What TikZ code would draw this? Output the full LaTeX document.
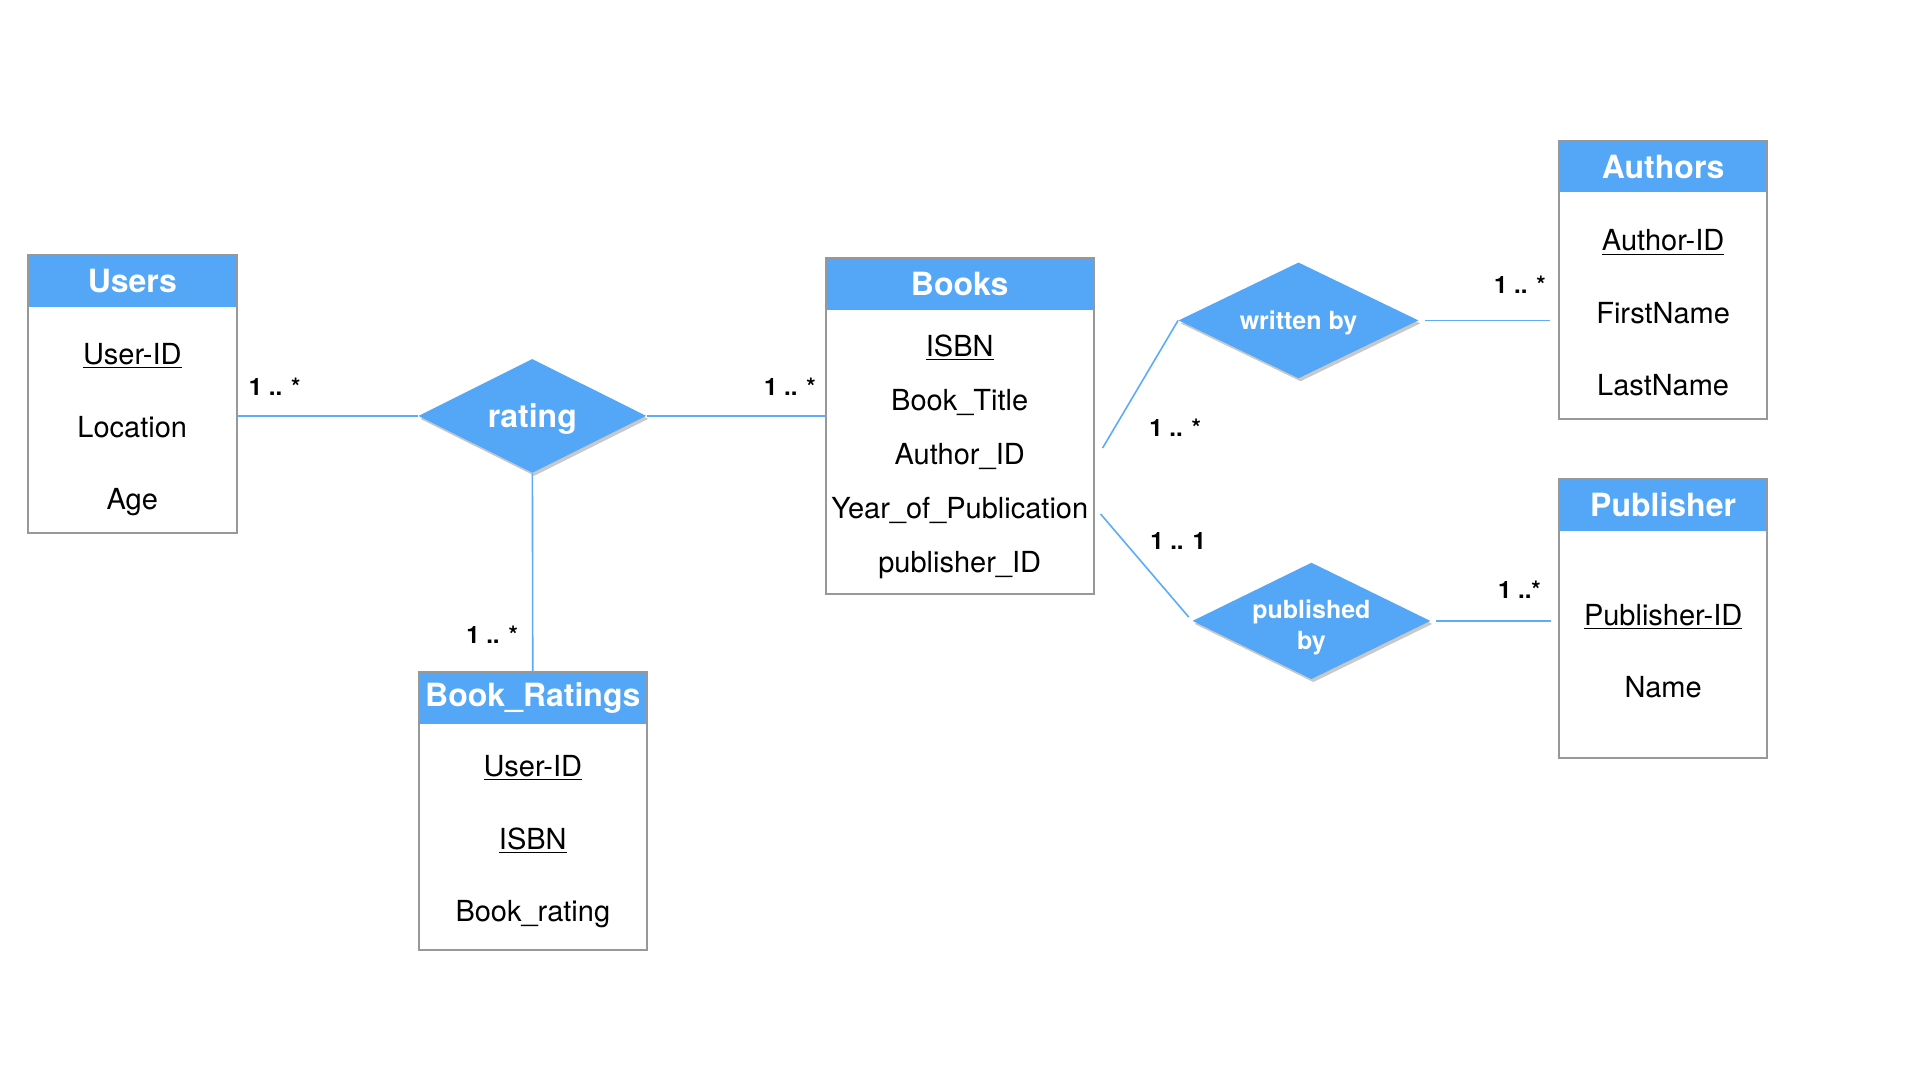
\documentclass[tikz,border=0pt]{standalone}
\usepackage{fontspec}
\setmainfont{TeX Gyre Heros}
\usetikzlibrary{positioning,fit,shapes.geometric,shadows}
\definecolor{headblue}{RGB}{84,167,247}
\definecolor{lineblue}{RGB}{92,172,250}
\definecolor{boxgray}{RGB}{152,152,152}
\newcommand{\rowpad}[1]{\rule{0pt}{#1}}

\begin{document}
\begin{tikzpicture}[
  x=0.5pt, y=-0.5pt,
  enthead/.style={fill=headblue, text=white, inner sep=0pt,
    minimum height=25.5pt, font=\bfseries\fontsize{16}{19}\selectfont},
  entbody/.style={align=center, inner sep=0pt, minimum height=112.5pt,
    font=\fontsize{14.5}{#1}\selectfont},
  entbody/.default=36.25,
  entbox/.style={draw=boxgray, line width=1pt, inner sep=0pt},
  relshape/.style={diamond, aspect=2, fill=headblue, text=white, inner sep=0pt,
    drop shadow={shadow xshift=1pt, shadow yshift=-1.5pt, opacity=0.3, fill=black!70}},
  link/.style={draw=lineblue, line width=0.8pt},
  mult/.style={font=\bfseries\fontsize{12}{14}\selectfont, inner sep=0pt},
]
\path[fill=white] (0,0) rectangle (1920,1080);
\useasboundingbox (0,0) rectangle (1920,1080);

% --- Entities -------------------------------------------------
\node[enthead, minimum width=104pt] (UsersH) at (132.3,281.2) {Users};
\node[entbody, minimum width=104pt, below=0pt of UsersH] (Users)
  {\rowpad{20.2pt}\underline{User-ID}\\Location\\Age};

\node[enthead, minimum width=133.5pt] (BooksH) at (959.7,284.2) {Books};
\node[entbody=27, minimum width=133.5pt, minimum height=141.5pt, below=0pt of BooksH] (Books)
  {\rowpad{15.3pt}\underline{ISBN}\\Book\_Title\\Author\_ID\\Year\_of\_Publication\\publisher\_ID};

\node[enthead, minimum width=113.5pt] (RatingsH) at (532.8,698.1) {Book\_Ratings};
\node[entbody, minimum width=113.5pt, below=0pt of RatingsH] (Ratings)
  {\rowpad{15.3pt}\underline{User-ID}\\\underline{ISBN}\\Book\_rating};

\node[enthead, minimum width=103.5pt] (AuthorsH) at (1663.1,166.8) {Authors};
\node[entbody, minimum width=103.5pt, below=0pt of AuthorsH] (Authors)
  {\rowpad{17.8pt}\underline{Author-ID}\\FirstName\\LastName};

\node[enthead, minimum width=103.5pt] (PublisherH) at (1663.1,505.1) {Publisher};
\node[entbody, minimum width=103.5pt, minimum height=113pt, below=0pt of PublisherH] (Publisher)
  {\rowpad{17.2pt}\underline{Publisher-ID}\\Name};

% --- Frames (fit) ---------------------------------------------
\node[entbox, fit=(UsersH)(Users)] (UsersBox) {};
\node[entbox, fit=(BooksH)(Books)] (BooksBox) {};
\node[entbox, fit=(RatingsH)(Ratings)] (RatingsBox) {};
\node[entbox, fit=(AuthorsH)(Authors)] (AuthorsBox) {};
\node[entbox, fit=(PublisherH)(Publisher)] (PublisherBox) {};

% --- Relationships --------------------------------------------
\node[relshape, minimum width=114pt, minimum height=57pt, text depth=0pt,
  font=\bfseries\fontsize{16}{19}\selectfont] (rating) at (532.3,415.9) {rating};
\node[relshape, minimum width=120pt, minimum height=58pt, text depth=0pt,
  font=\bfseries\fontsize{12.5}{15}\selectfont] (written) at (1298.5,320.4) {written by};
\node[relshape, minimum width=119pt, minimum height=58pt, align=center,
  text height=28.8pt, text depth=-1.7pt,
  font=\bfseries\fontsize{12.5}{15.5}\selectfont] (published) at (1311.4,620.9) {published\\by};

% --- Connectors -----------------------------------------------
\draw[link] (Users.east |- rating) -- node[mult, pos=0.21, above=10pt]{1 .. *} (rating);
\draw[link] (rating) -- node[mult, pos=0.8, above=10pt]{1 .. *} (rating -| Books.west);
\draw[link] (rating) -- node[mult, pos=0.81, left=7pt]{1 .. *} (RatingsH);

\draw[link] ([xshift=4.5pt,yshift=2pt]Books.east) -- node[mult, pos=0.16, right=17pt]{1 .. *} (written.west);
\draw[link, shorten >=2.5pt] ([xshift=3.5pt,yshift=-31pt]Books.east) -- node[mult, pos=0.25, right=13pt]{1 .. 1} (published.west);

\draw[link, shorten <=3pt, shorten >=4.5pt] (written) -- node[mult, pos=0.72, above=13pt]{1 .. *} (written -| Authors.west);
\draw[link, shorten <=2.5pt, shorten >=4pt] (published) -- node[mult, pos=0.69, above=11pt]{1 ..*} (published -| Publisher.west);

\end{tikzpicture}
\end{document}
